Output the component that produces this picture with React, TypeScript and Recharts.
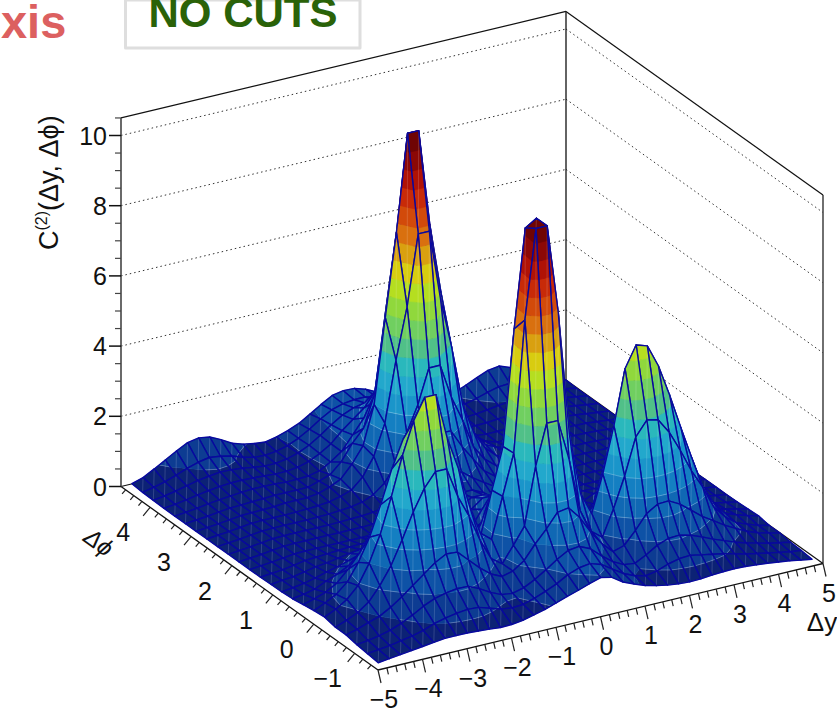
import { Scatter, ScatterChart, XAxis, YAxis } from "recharts";

const W = 837;
const H = 710;

// floor corners and height scale of the oblique box
const FRONT = [378, 670];
const LEFT = [121, 486.5];
const RIGHT = [823, 563.5];
const PX_PER_Z = 35.1;
const Z_TOP = 10.5;

const DY_TICKS = [-5, -4, -3, -2, -1, 0, 1, 2, 3, 4, 5];
const DPHI_TICKS = [-1, 0, 1, 2, 3, 4];
const Z_TICKS = [0, 2, 4, 6, 8, 10];

// one colour per 0.5 step of height
const BAND_COLORS = [
  "#0c2275", "#0d3c92", "#0e52a6", "#1068b4", "#147fc2", "#1a95ca", "#22a8cc",
  "#2ab8bc", "#50c088", "#70cf60", "#90d83c", "#b5de20", "#d8cc10", "#d9a010",
  "#d9700f", "#d24a0a", "#c82a08", "#b01206", "#8c0806", "#6f0404", "#6f0404",
];

// C2 values at the bin centres: 24 rows in dphi (front to back), 40 columns in dy
const row00 = [.06,.1,.14,.18,.22,.26,.3,.3,.3,.28,.26,.23,.24,.28,.36,.44,.55,.66,.76,.87,.97,.9,.69,.56,.44,.36,.3,.26,.24,.25,.28,.3,.31,.3,.27,.24,.2,.16,.1,.05];
const row01 = [.1,.14,.18,.24,.3,.38,.5,.58,.64,.68,.66,.56,.46,.42,.44,.54,.66,.8,.98,1.1,1.15,1.05,.84,.64,.5,.42,.48,.6,.68,.7,.64,.58,.52,.44,.36,.3,.24,.18,.12,.08];
const row02 = [.14,.18,.24,.32,.44,.6,.78,.92,1,1.05,1.04,.9,.72,.58,.54,.62,.78,.98,1.2,1.38,1.42,1.28,1,.76,.6,.56,.72,.92,1.04,1.06,.98,.86,.72,.6,.48,.38,.3,.22,.16,.1];
const row03 = [.2,.28,.4,.5,.68,.9,1.15,1.4,1.65,1.82,1.8,1.5,1.2,.95,.8,.88,1.1,1.5,1.85,2.25,2.3,1.95,1.45,1.05,.75,.85,1.2,1.6,1.8,1.82,1.65,1.4,1.15,.95,.75,.58,.42,.3,.22,.14];
const row04 = [.2,.32,.46,.69,1.08,1.57,2.23,2.95,3.55,3.95,3.95,3.09,2.46,1.69,1.09,.87,1.32,1.79,3.41,4.57,4.57,3.4,1.85,1.19,.94,1.67,2.53,3.57,3.98,3.91,3.48,2.89,2.23,1.7,1.05,.7,.45,.33,.22,.14];
const row05 = [.27,.42,.62,.94,1.5,2.25,3.25,4.35,5.25,5.85,5.85,4.55,3.61,2.47,1.6,1.35,2.5,3.65,7.37,9.9,9.9,7.35,3.8,2.05,1.4,2.45,3.75,5.3,5.9,5.8,5.15,4.25,3.25,2.3,1.4,.85,.5,.38,.28,.2];
const row06 = [.24,.38,.55,.83,1.31,1.95,2.8,3.74,4.5,5.01,5.01,3.99,3.11,2.16,1.44,1.26,2.45,3.62,6.9,9.7,9.9,7.34,3.78,1.95,.9,1.05,2.3,3.4,4.85,4.97,4.42,3.65,2.8,1.9,1.15,.7,.42,.32,.25,.18];
const row07 = [.19,.28,.39,.57,.88,1.25,1.75,2.3,2.75,3.05,3.05,2.4,1.93,1.36,.92,.78,1.3,1.82,3.53,4.75,4.75,3.52,1.89,1.11,.6,.75,1,2,3,3.03,2.7,2.25,1.75,1.35,.8,.55,.36,.28,.22,.16];
const row08 = [.14,.19,.26,.41,.53,.69,.91,1.15,1.35,1.48,1.48,1.2,1.01,.74,.55,.49,.75,.99,1.82,2.4,2.4,1.81,1.03,.64,.3,.35,.4,.5,1.49,1.47,1.33,1.13,.91,.73,.58,.38,.3,.26,.2,.15];
const row09 = [.12,.16,.21,.28,.38,.45,.55,.66,.75,.81,.81,.68,.58,.47,.4,.37,.52,.65,1.1,1.42,1.42,1.1,.68,.45,.3,.3,.32,.35,.5,.81,.74,.65,.55,.47,.4,.33,.28,.24,.2,.15];
const row10 = [.11,.15,.18,.24,.31,.35,.4,.46,.5,.53,.53,.46,.41,.35,.32,.31,.44,.55,.89,1.13,1.13,.89,.57,.38,.3,.3,.3,.3,.35,.5,.5,.45,.4,.36,.32,.3,.27,.24,.2,.15];
const row11 = [.1,.13,.16,.21,.27,.29,.31,.33,.35,.36,.36,.34,.32,.3,.28,.3,.4,.49,.75,.93,.93,.75,.5,.33,.28,.29,.31,.35,.36,.36,.35,.33,.31,.3,.28,.27,.25,.22,.18,.14];
const row12 = [.1,.13,.16,.2,.24,.25,.25,.25,.25,.25,.25,.25,.26,.27,.28,.3,.37,.45,.7,.85,.85,.7,.46,.37,.3,.27,.26,.25,.25,.25,.25,.25,.25,.25,.25,.24,.23,.2,.17,.13];
const row13 = [.1,.13,.16,.2,.24,.25,.25,.25,.25,.25,.25,.25,.26,.27,.3,.37,.5,.68,.9,1.15,1.15,.9,.7,.5,.37,.3,.27,.26,.25,.25,.25,.25,.25,.25,.25,.24,.23,.2,.17,.13];
const row14 = [.1,.13,.16,.2,.24,.25,.25,.25,.25,.25,.26,.27,.28,.31,.37,.5,.73,1.15,1.58,2.1,2.1,1.58,1.15,.73,.5,.37,.31,.28,.27,.26,.25,.25,.25,.25,.25,.24,.23,.2,.17,.13];
const row15 = [.1,.13,.16,.2,.24,.25,.25,.25,.25,.26,.27,.29,.32,.38,.52,.77,1.2,2.05,2.77,3.75,3.75,2.77,2.05,1.2,.77,.52,.38,.32,.29,.27,.26,.25,.25,.25,.25,.24,.23,.2,.17,.13];
const row16 = [.1,.13,.16,.2,.24,.25,.25,.25,.26,.27,.29,.32,.4,.51,.8,1.31,2.18,3.9,5.35,7.35,7.35,5.35,3.9,2.18,1.31,.8,.51,.4,.32,.29,.27,.26,.25,.25,.25,.24,.23,.2,.17,.13];
const row17 = [.1,.13,.16,.2,.24,.25,.26,.27,.3,.3,.3,.35,.45,.6,.95,1.4,2.5,4.9,7.25,10,10,7.25,5.25,2.9,1.7,1,.6,.45,.35,.3,.3,.28,.27,.26,.25,.24,.23,.2,.17,.13];
const row18 = [.1,.13,.16,.2,.24,.25,.27,.28,.3,.3,.3,.3,.4,.51,.8,1.25,1.6,2.5,4.8,7,7.5,5.5,4,2.25,1.34,.81,.51,.4,.3,.3,.3,.3,.28,.27,.25,.24,.23,.2,.17,.13];
const row19 = [.1,.13,.17,.22,.26,.29,.32,.34,.34,.33,.31,.31,.33,.4,.58,.8,1.2,1.6,2,3.6,3.75,2.77,2.05,1.2,.8,.58,.4,.34,.31,.31,.33,.35,.36,.36,.32,.28,.25,.21,.17,.13];
const row20 = [.1,.14,.19,.25,.3,.34,.37,.37,.36,.34,.32,.32,.36,.45,.6,.8,1.1,1.35,1.6,2,2,1.75,1.42,1.1,.8,.6,.45,.36,.33,.34,.37,.4,.42,.41,.37,.31,.26,.22,.17,.13];
const row21 = [.11,.16,.22,.3,.37,.42,.46,.45,.42,.37,.33,.33,.38,.47,.62,.82,1.05,1.25,1.38,1.45,1.45,1.38,1.25,1.02,.8,.6,.46,.38,.35,.37,.41,.46,.5,.5,.44,.36,.28,.23,.18,.13];
const row22 = [.12,.19,.27,.38,.5,.6,.66,.62,.55,.44,.36,.34,.38,.46,.6,.78,1,1.18,1.28,1.32,1.32,1.25,1.1,.9,.7,.55,.45,.4,.4,.44,.52,.62,.7,.72,.62,.46,.34,.26,.19,.13];
const row23 = [.15,.25,.42,.6,.78,.94,1,.95,.8,.62,.52,.46,.43,.5,.6,.73,.92,1.12,1.3,1.36,1.35,1.25,1.1,.92,.75,.6,.5,.45,.46,.55,.68,.82,.95,1,.88,.68,.5,.36,.25,.15];

const GRID = [row00, row01, row02, row03, row04, row05, row06, row07, row08, row09, row10, row11,
  row12, row13, row14, row15, row16, row17, row18, row19, row20, row21, row22, row23];

type P3 = [number, number, number];
type Mark = {
  x: number; y: number; pts?: number[][]; fill?: string; stroke?: string; sw?: number; dash?: string;
  text?: string; size?: number; anchor?: string; weight?: number; rotate?: number; italic?: boolean; color?: string;
};

// u along dy, v along dphi, both 0..1 on the floor
const project = (u: number, v: number, z: number) => [
  FRONT[0] + (RIGHT[0] - FRONT[0]) * u + (LEFT[0] - FRONT[0]) * v,
  FRONT[1] + (RIGHT[1] - FRONT[1]) * u + (LEFT[1] - FRONT[1]) * v - PX_PER_Z * z,
];
const uOf = (dy: number) => (dy + 5) / 10;
const vOf = (phi: number) => (phi + Math.PI / 2) / (2 * Math.PI);

const line = (a: number[], b: number[], stroke: string, sw = 1.2, dash?: string): Mark => ({
  x: a[0], y: a[1], pts: [a, b], stroke, sw, dash,
});
const label = (x: number, y: number, text: string, size = 25, extra: Partial<Mark> = {}): Mark => ({
  x, y, text, size, anchor: "middle", ...extra,
});

// keep the part of a polygon on one side of a height level
const clip = (poly: P3[], level: number, above: boolean): P3[] => {
  const out: P3[] = [];
  poly.forEach((a, n) => {
    const b = poly[(n + 1) % poly.length];
    const aIn = above ? a[2] >= level : a[2] <= level;
    const bIn = above ? b[2] >= level : b[2] <= level;
    if (aIn) out.push(a);
    if (aIn !== bIn) {
      const t = (level - a[2]) / (b[2] - a[2]);
      out.push([a[0] + (b[0] - a[0]) * t, a[1] + (b[1] - a[1]) * t, level]);
    }
  });
  return out;
};

const surfaceMarks = () => {
  const marks: Mark[] = [];
  const nx = GRID[0].length;
  const ny = GRID.length;
  const node = (i: number, j: number): P3 => [(i + 0.5) / nx, (j + 0.5) / ny, GRID[j][i]];
  for (let j = ny - 2; j >= 0; j--) {
    for (let i = nx - 2; i >= 0; i--) {
      const quad = [node(i, j), node(i + 1, j), node(i + 1, j + 1), node(i, j + 1)];
      const zs = quad.map((p) => p[2]);
      const loBand = Math.floor(Math.min(...zs) / 0.5);
      const hiBand = Math.floor(Math.max(...zs) / 0.5);
      const seams: Mark[] = [];
      for (let b = loBand; b <= hiBand; b++) {
        const piece = clip(clip(quad, b * 0.5, true), (b + 1) * 0.5, false);
        if (piece.length < 3) continue;
        const pts = piece.map((p) => project(p[0], p[1], p[2]));
        const fill = BAND_COLORS[Math.min(b, BAND_COLORS.length - 1)];
        marks.push({ x: pts[0][0], y: pts[0][1], pts, fill, stroke: fill, sw: 0.5 });
        // the faint light seam between the low colour bands
        const edge = piece.filter((p) => p[2] === b * 0.5);
        if (b > 0 && b <= 5 && edge.length === 2) {
          seams.push(line(project(edge[0][0], edge[0][1], b * 0.5), project(edge[1][0], edge[1][1], b * 0.5), "rgba(255,255,255,0.35)", 0.7));
        }
      }
      marks.push(...seams);
      const corners = quad.map((p) => project(p[0], p[1], p[2]));
      marks.push(line(corners[0], corners[2], "rgba(255,255,255,0.22)", 0.7));
      marks.push({ x: corners[0][0], y: corners[0][1], pts: corners, fill: "none", stroke: "#08089e", sw: 1.4 });
    }
  }
  return marks;
};

const boxMarks = () => {
  const marks: Mark[] = [];
  const gridColor = "#333";
  Z_TICKS.filter((z) => z > 0).forEach((z) => {
    marks.push(line(project(0, 1, z), project(1, 1, z), gridColor, 1, "1.5 3"));
    marks.push(line(project(1, 1, z), project(1, 0, z), gridColor, 1, "1.5 3"));
  });
  marks.push(line(project(0, 1, Z_TOP), project(1, 1, Z_TOP), "#111"));
  marks.push(line(project(1, 1, Z_TOP), project(1, 0, Z_TOP), "#111"));
  marks.push(line(project(1, 1, 0), project(1, 1, Z_TOP), "#222", 1.4));
  marks.push(line(project(1, 0, 0), project(1, 0, Z_TOP), "#333", 1.4));
  marks.push(line(project(0, 1, 0), project(1, 1, 0), "#111"));
  marks.push(line(project(1, 1, 0), project(1, 0, 0), "#111"));
  return marks;
};

const axisMarks = () => {
  const marks: Mark[] = [];
  const add = (a: number[], dx: number, dy: number, color = "#222", sw = 1.2) =>
    marks.push(line(a, [a[0] + dx, a[1] + dy], color, sw));

  marks.push(line(project(0, 0, 0), project(1, 0, 0), "#111", 1.3));
  marks.push(line(project(0, 0, 0), project(0, 1, 0), "#111", 1.3));
  marks.push(line(project(0, 1, 0), project(0, 1, Z_TOP), "#444", 1.6));

  // dy axis
  for (let n = 0; n <= 50; n++) {
    const major = n % 5 === 0;
    add(project(n / 50, 0, 0), major ? 3 : 1.5, major ? 13 : 6.5);
  }
  DY_TICKS.forEach((t) => {
    const p = project(uOf(t), 0, 0);
    marks.push(label(p[0] + 6, p[1] + 38, t < 0 ? `\u2212${-t}` : `${t}`));
  });

  // dphi axis
  for (let phi = -1.4; phi <= 4.61; phi += 0.2) {
    const major = Math.abs(phi - Math.round(phi)) < 0.01;
    add(project(0, vOf(phi), 0), major ? -7 : -3.5, major ? 8.5 : 4.2);
  }
  DPHI_TICKS.forEach((t) => {
    const p = project(0, vOf(t), 0);
    marks.push(label(p[0] - 27, p[1] + 34, t < 0 ? `\u2212${-t}` : `${t}`));
  });

  // height axis
  for (let n = 0; n <= 21; n++) {
    const z = n * 0.5;
    const major = n % 4 === 0;
    add(project(0, 1, z), major ? -12 : -6, 0, major ? "#111" : "#444", major ? 1.5 : 1.2);
  }
  Z_TICKS.forEach((t) => {
    const p = project(0, 1, t);
    marks.push(label(p[0] - 14, p[1] + 9, `${t}`, 25, { anchor: "end" }));
  });

  marks.push(label(822, 631, "\u0394y", 26));
  marks.push(label(94, 549, "\u0394\u03d5", 24, { rotate: 36, italic: true }));
  return marks;
};

const headerMarks = (): Mark[] => [
  label(1, 38, "xis", 47, { anchor: "start", weight: 700, color: "#dc6060" }),
  { x: 125.5, y: 0, pts: [[125.5, 0], [125.5, 48], [360, 48], [360, 0]], fill: "none", stroke: "#dedede", sw: 3 },
  label(243, 27, "NO CUTS", 42, { weight: 700, color: "#2a6208" }),
];

const drawMark = (props: any) => {
  const { cx, cy, payload } = props;
  const m: Mark = payload;
  if (m.text !== undefined) {
    return (
      <text
        x={cx}
        y={cy}
        fontFamily="'Liberation Sans', Arial, sans-serif"
        fontSize={m.size}
        fontWeight={m.weight ?? 400}
        fontStyle={m.italic ? "italic" : "normal"}
        textAnchor={m.anchor}
        fill={m.color ?? "#111"}
        transform={m.rotate ? `rotate(${m.rotate} ${cx} ${cy})` : undefined}
      >
        {m.text}
      </text>
    );
  }
  const points = (m.pts ?? []).map((p) => `${p[0] - m.x + cx},${p[1] - m.y + cy}`).join(" ");
  if (m.fill) {
    return <polygon points={points} fill={m.fill} stroke={m.stroke} strokeWidth={m.sw} strokeLinejoin="round" />;
  }
  return <polyline points={points} fill="none" stroke={m.stroke} strokeWidth={m.sw} strokeDasharray={m.dash} />;
};

const drawTitle = (props: any) => (
  <text
    transform={`translate(${props.cx} ${props.cy}) rotate(-90)`}
    fontFamily="'Liberation Sans', Arial, sans-serif"
    fontSize={27}
    fill="#111"
  >
    C
    <tspan fontSize={16} dy={-11}>(2)</tspan>
    <tspan dy={11}>(Δy, Δϕ)</tspan>
  </text>
);

const layers = [boxMarks(), surfaceMarks(), axisMarks(), headerMarks()];

export default function App() {
  return (
    <div style={{ position: "absolute", left: 0, top: 0, width: W, height: H, background: "#fff" }}>
      <ScatterChart width={W} height={H} margin={{ top: 0, right: 0, bottom: 0, left: 0 }}>
        <XAxis type="number" dataKey="x" domain={[0, W]} hide />
        <YAxis type="number" dataKey="y" domain={[0, H]} reversed hide />
        {layers.map((data, n) => (
          <Scatter key={n} data={data} shape={drawMark} isAnimationActive={false} />
        ))}
        <Scatter data={[{ x: 58, y: 250 }]} shape={drawTitle} isAnimationActive={false} />
      </ScatterChart>
    </div>
  );
}
